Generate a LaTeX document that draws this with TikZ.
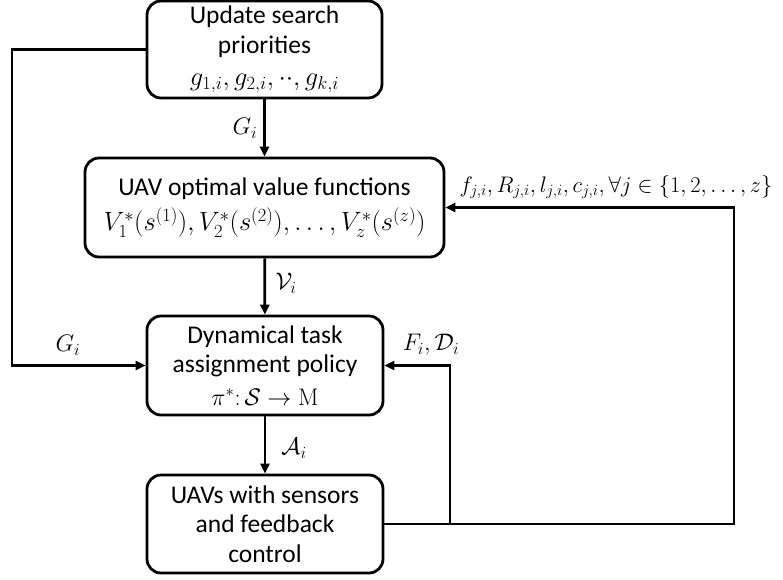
\RequirePackage{fix-cm}
\documentclass[tikz,border=0pt]{standalone}
\usepackage[no-math]{fontspec}
\setmainfont{Carlito}
\usetikzlibrary{arrows.meta}
\newcommand{\bm}[1]{{\fontsize{26.5}{30}\selectfont$#1$}}
\begin{document}
\begin{tikzpicture}[x=1pt,y=-1pt,
  box/.style={draw,line width=2.8pt,rounded corners=14pt,align=center,font=\fontsize{25.5}{29.5}\selectfont,inner sep=0pt},
  conn/.style={line width=2.8pt,-{Triangle[length=10pt,width=9pt]}},
  lbl/.style={font=\fontsize{24}{26}\selectfont,inner sep=1pt}]
\useasboundingbox (0,0) rectangle (783,579);
\node[box,minimum width=235pt,minimum height=97pt] (upd) at (264.5,49.5) {Update search\\priorities\\[3pt]\bm{g_{1,i},g_{2,i},\cdot\cdot,g_{k,i}}};
\node[box,minimum width=359pt,minimum height=99pt] (opt) at (264.5,207.5) {UAV optimal value functions\\[6pt]\bm{V_1^*\Big(s^{(1)}\Big),V_2^*\Big(s^{(2)}\Big),\ldots,V_z^*\Big(s^{(z)}\Big)}};
\node[box,minimum width=236pt,minimum height=99pt] (dyn) at (265,365.5) {Dynamical task\\assignment policy\\[3pt]{\fontsize{24}{28}\selectfont$\pi^*\colon\mathcal{S}\rightarrow\mathrm{M}$}};
\node[box,minimum width=236pt,minimum height=98pt] (uav) at (265,524) {UAVs with sensors\\and feedback\\control};
\coordinate (lc) at (12,0);
\coordinate (mc) at (450,0);
\coordinate (rc) at (734,0);
\draw[conn] (upd) -- (opt);
\draw[conn] (opt) -- (dyn);
\draw[conn] (dyn) -- (uav);
\draw[conn] (upd.west) -- (upd.west -| lc) -- (lc |- dyn.west) -- (dyn.west);
\draw[conn] (uav.east) -- (uav.east -| rc) -- (rc |- opt.east) -- (opt.east);
\draw[conn] (uav.east -| mc) -- (mc |- dyn.west) -- (dyn.east);
\node[lbl] (l1) at (245,128) {$G_i$};
\node[lbl] (l2) at (286,283) {$\mathcal{V}_i$};
\node[lbl] (l3) at (294,448) {$\mathcal{A}_i$};
\node[lbl] (l4) at (68,345) {$G_i$};
\node[lbl] (l5) at (431,345) {$F_i,\mathcal{D}_i$};
\node[lbl,font=\fontsize{22.5}{26}\selectfont] (l6) at (616,187) {$f_{j,i},R_{j,i},l_{j,i},c_{j,i},\forall j\in\{1,2,\ldots,z\}$};
\end{tikzpicture}
\end{document}
